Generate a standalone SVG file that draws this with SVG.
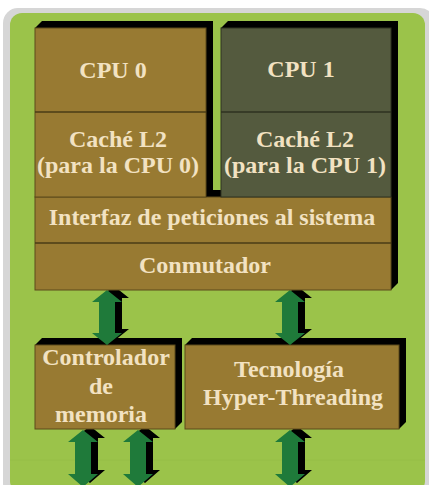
<svg xmlns="http://www.w3.org/2000/svg" width="429" height="485" viewBox="0 0 429 485">
  <defs>
    <style>
      .ext { fill: #000000; }
      .brown { fill: #987a32; stroke: #5c4a1a; stroke-width: 1; }
      .olive { fill: #545a3e; stroke: #2e3220; stroke-width: 1; }
      .div { stroke: #4a3c16; stroke-width: 1.5; }
      .divo { stroke: #2e3220; stroke-width: 1.5; }
      .t { font-family: "Liberation Serif", "Times New Roman", serif; font-weight: bold; font-size: 24px; fill: #f2e2c2; text-anchor: middle; }
      .arr { fill: #1f7a3a; }
      .arrs { fill: #000000; }
    </style>
  </defs>

  <rect x="0" y="0" width="429" height="485" fill="#ffffff"/>
  <rect x="3" y="8" width="432" height="490" rx="15" fill="#d6d6d6"/>
  <rect x="10" y="13" width="415" height="480" rx="12" fill="#9bc34a"/>
  <line x1="10" y1="460" x2="425" y2="460" stroke="#96be47" stroke-width="1"/>

  <g id="connectors">
    <g id="arrow-mem-a">
      <polygon class="arrs" transform="translate(7,-4)" points="83,430 98,442 91,442 91,474 98,474 83,487 68,474 75,474 75,442 68,442"/>
      <polygon class="arr" points="83,430 98,442 91,442 91,474 98,474 83,487 68,474 75,474 75,442 68,442"/>
    </g>
    <g id="arrow-mem-b">
      <polygon class="arrs" transform="translate(7,-4)" points="138,430 153,442 146,442 146,474 153,474 138,487 123,474 130,474 130,442 123,442"/>
      <polygon class="arr" points="138,430 153,442 146,442 146,474 153,474 138,487 123,474 130,474 130,442 123,442"/>
    </g>
    <g id="arrow-ht">
      <polygon class="arrs" transform="translate(7,-4)" points="290,430 305,442 298,442 298,474 305,474 290,487 275,474 282,474 282,442 275,442"/>
      <polygon class="arr" points="290,430 305,442 298,442 298,474 305,474 290,487 275,474 282,474 282,442 275,442"/>
    </g>
  </g>

  <g id="controlador">
    <polygon class="ext" points="35,345 42,338 182,338 182,422 175,429"/>
    <rect class="brown" x="35" y="345" width="140" height="84"/>
    <text class="t" x="106" y="365">Controlador</text>
    <text class="t" x="101" y="394">de</text>
    <text class="t" x="101" y="422">memoria</text>
  </g>

  <g id="hyperthreading">
    <polygon class="ext" points="185,345 192,338 406,338 406,422 399,429"/>
    <rect class="brown" x="185" y="345" width="214" height="84"/>
    <text class="t" x="289" y="377">Tecnología</text>
    <text class="t" x="293" y="405">Hyper-Threading</text>
  </g>

  <g id="connectors-top">
    <g id="arrow-conm-mem">
      <polygon class="arrs" transform="translate(7,-4)" points="107,290 122,302 115,302 115,333 122,333 107,345 92,333 99,333 99,302 92,302"/>
      <polygon class="arr" points="107,290 122,302 115,302 115,333 122,333 107,345 92,333 99,333 99,302 92,302"/>
    </g>
    <g id="arrow-conm-ht">
      <polygon class="arrs" transform="translate(7,-4)" points="290,290 305,302 298,302 298,333 305,333 290,345 275,333 282,333 282,302 275,302"/>
      <polygon class="arr" points="290,290 305,302 298,302 298,333 305,333 290,345 275,333 282,333 282,302 275,302"/>
    </g>
  </g>

  <g id="interfaz-conmutador">
    <polygon class="ext" points="35,197 42,190 398,190 398,283 391,290"/>
    <rect class="brown" x="35" y="197" width="356" height="93"/>
    <line class="div" x1="35" y1="243" x2="391" y2="243"/>
    <text class="t" x="212" y="225">Interfaz de peticiones al sistema</text>
    <text class="t" x="205" y="273">Conmutador</text>
  </g>

  <g id="cpu0">
    <polygon class="ext" points="35,28 42,21 213,21 213,190 206,197"/>
    <rect class="brown" x="35" y="28" width="171" height="169"/>
    <line class="div" x1="35" y1="112" x2="206" y2="112"/>
    <text class="t" x="113" y="78">CPU 0</text>
    <text class="t" x="118" y="147">Caché L2</text>
    <text class="t" x="118" y="173">(para la CPU 0)</text>
  </g>

  <g id="cpu1">
    <polygon class="ext" points="221,28 228,21 398,21 398,190 391,197"/>
    <rect class="olive" x="221" y="28" width="170" height="169"/>
    <line class="divo" x1="221" y1="112" x2="391" y2="112"/>
    <text class="t" x="301" y="77">CPU 1</text>
    <text class="t" x="305" y="147">Caché L2</text>
    <text class="t" x="305" y="173">(para la CPU 1)</text>
  </g>
</svg>
